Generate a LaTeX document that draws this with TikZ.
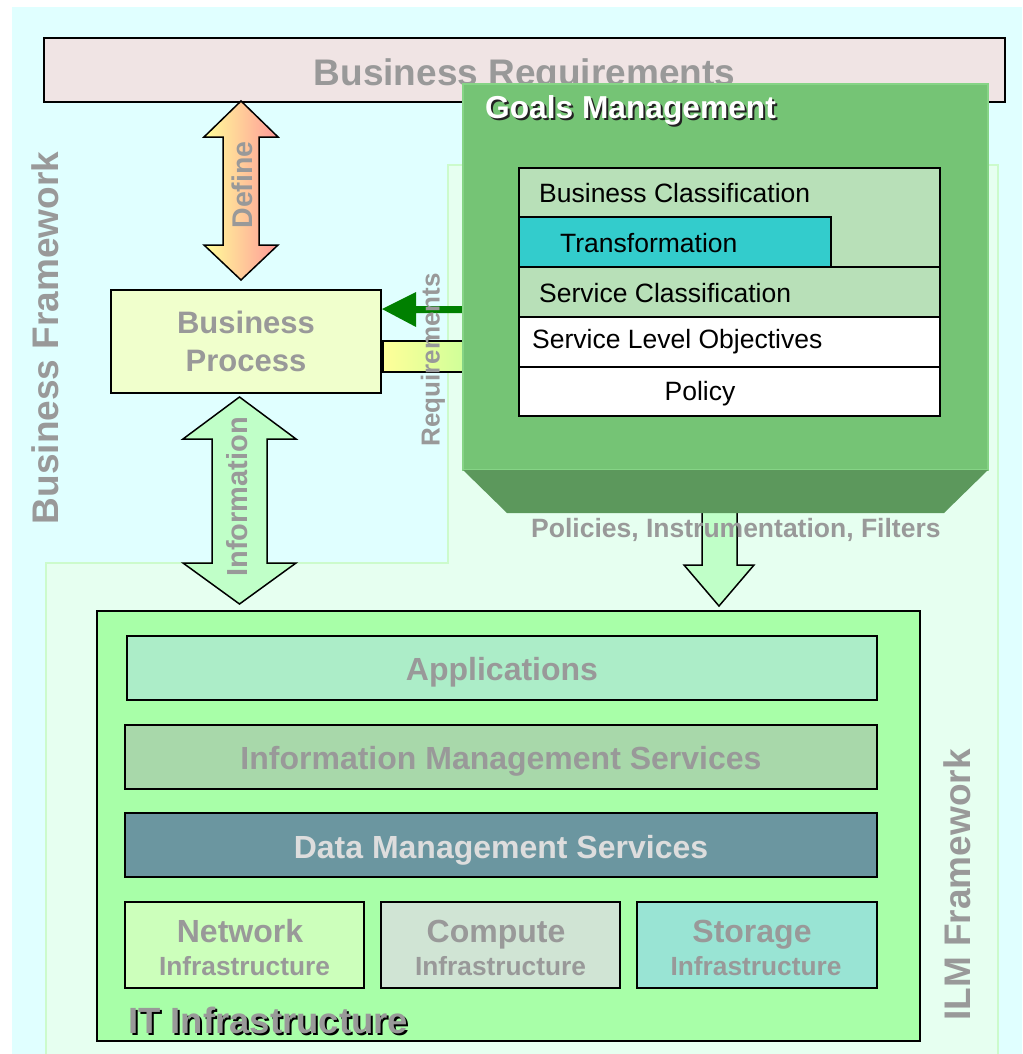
\documentclass[tikz,border=0pt]{standalone}
\usepackage{fontspec}
\setmainfont{Liberation Sans}
\usetikzlibrary{calc}
\definecolor{bgcyan}{HTML}{E0FFFF}
\definecolor{ilmbg}{HTML}{E6FFF0}
\definecolor{ilmedge}{HTML}{CCFBCC}
\definecolor{reqfill}{HTML}{F0E4E4}
\definecolor{labelgray}{HTML}{999999}
\definecolor{goalface}{HTML}{75C475}
\definecolor{goaledge}{HTML}{86D486}
\definecolor{goalbevel}{HTML}{5C985C}
\definecolor{classfill}{HTML}{B8E0B8}
\definecolor{transfill}{HTML}{33CCCC}
\definecolor{bpfill}{HTML}{F0FFCC}
\definecolor{arrowgreen}{HTML}{C0FFC8}
\definecolor{darkgreen}{HTML}{008000}
\definecolor{itfill}{HTML}{A8FFA8}
\definecolor{appfill}{HTML}{ACEDC8}
\definecolor{imsfill}{HTML}{A8D8AA}
\definecolor{dmsfill}{HTML}{6B96A0}
\definecolor{dmstext}{HTML}{DDDDDD}
\definecolor{netfill}{HTML}{CCFFBB}
\definecolor{compfill}{HTML}{D0E4D4}
\definecolor{storfill}{HTML}{99E4D4}
\definecolor{lightyellow}{HTML}{FFFF99}
\definecolor{pinkish}{HTML}{FF9999}
\definecolor{yellowgreen}{HTML}{CCFF99}
\definecolor{shadowdark}{HTML}{222222}
\tikzset{
  blk/.style={draw=black, line width=1.8pt, inner sep=0pt, outer sep=0pt, anchor=north west},
  big/.style={text=labelgray, font=\bfseries\fontsize{37}{44}\selectfont, inner sep=0pt},
  mid/.style={text=labelgray, font=\bfseries\fontsize{32}{38}\selectfont, inner sep=0pt},
  sub/.style={text=labelgray, font=\bfseries\fontsize{26.3}{31}\selectfont, inner sep=0pt},
  rowtxt/.style={text=black, font=\fontsize{26.5}{31}\selectfont, inner sep=0pt},
  blockarrow/.style={draw=black, line width=1.5pt, line join=miter},
}
\begin{document}
\begin{tikzpicture}[x=1pt,y=-1pt]
\useasboundingbox (0,0) rectangle (1022,1054);
% backgrounds
\fill[white] (0,0) rectangle (1022,1054);
\fill[bgcyan] (12,7) rectangle (1022,1054);
\fill[ilmbg] (448,165) -- (998,165) -- (998,1054) -- (46,1054) -- (46,563) -- (448,563) -- cycle;
\draw[ilmedge, line width=1.5pt] (46,1054) -- (46,563) -- (448,563) -- (448,165) -- (998,165) -- (998,1054);

% Business requirements
\node[blk, fill=reqfill, minimum width=961, minimum height=64] (breq) at (44,38) {};
\node[big, anchor=base] (breqtxt) at (524.5,86) {Business Requirements};

% framework labels
\node[big, rotate=90] (bfw) at (45,338) {Business Framework};
\node[big, rotate=90] (ilmfw) at (957,885) {ILM Framework};

% Define arrow
\draw[blockarrow, left color=lightyellow, right color=pinkish]
  (241,101) -- (278,137) -- (259,137) -- (259,245) -- (278,245) -- (241,280)
  -- (204,245) -- (223,245) -- (223,137) -- (204,137) -- cycle;
\node[text=labelgray, font=\bfseries\fontsize{28.5}{33}\selectfont, rotate=90, inner sep=0pt] (deftxt) at (242,185) {Define};

% Business process
\node[blk, fill=bpfill, minimum width=270, minimum height=103, text=labelgray,
      font=\bfseries\fontsize{31}{38}\selectfont, align=center] (bp) at (111,290) {Business\\Process};

% Information arrow
\draw[blockarrow, fill=arrowgreen]
  (239.5,397) -- (296,439) -- (267,439) -- (267,563) -- (296,563) -- (239.5,604)
  -- (183,563) -- (212,563) -- (212,439) -- (183,439) -- cycle;
\node[text=labelgray, font=\bfseries\fontsize{29}{34}\selectfont, rotate=90, inner sep=0pt] (infotxt) at (237,497) {Information};

% requirements arrow and bar
\fill[darkgreen] (382,309) -- (416,292) -- (416,306) -- (470,306) -- (470,313) -- (416,313) -- (416,327) -- cycle;
\draw[line width=1.5pt, left color=lightyellow, right color=yellowgreen] (383,341) rectangle (470,372);

% down arrow
\draw[blockarrow, fill=arrowgreen]
  (702,505) -- (702,565) -- (684,565) -- (719,606) -- (754,565) -- (737,565) -- (737,505);

% Goals management
\node[anchor=north west, fill=goalface, draw=goaledge, line width=2pt, minimum width=525, minimum height=386, inner sep=0pt, outer sep=0pt] (goals) at (463,84) {};
\fill[goalbevel] (463,470) -- (988,470) -- (944,513) -- (507,513) -- cycle;
\node[anchor=base west, text=shadowdark, font=\bfseries\fontsize{31.7}{37}\selectfont, inner sep=0pt] at (487,121) {Goals Management};
\node[anchor=base west, text=white, font=\bfseries\fontsize{31.7}{37}\selectfont, inner sep=0pt] (goalstxt) at (485,119) {Goals Management};

\node[blk, fill=classfill, minimum width=421, minimum height=99] (bc) at (519,168) {};
\node[blk, fill=transfill, minimum width=312, minimum height=50] (tr) at (519,217) {};
\node[blk, fill=classfill, minimum width=421, minimum height=50] (sc) at (519,267) {};
\node[blk, fill=white, minimum width=421, minimum height=50] (slo) at (519,317) {};
\node[blk, fill=white, minimum width=421, minimum height=49] (pol) at (519,367) {};
\node[rowtxt, anchor=base west] at (539,202) {Business Classification};
\node[rowtxt, anchor=base west] at (560,252) {Transformation};
\node[rowtxt, anchor=base west] at (539,302) {Service Classification};
\node[rowtxt, anchor=base west] at (532,348) {Service Level Objectives};
\node[rowtxt, anchor=base] at (700,400) {Policy};

% labels over arrows
\node[text=labelgray, font=\bfseries\fontsize{26}{31}\selectfont, rotate=90, inner sep=0pt] (reqtxt) at (433,360) {Requirements};
\node[text=labelgray, font=\bfseries\fontsize{26.5}{31}\selectfont, anchor=base west, inner sep=0pt] (poltxt) at (531,537) {Policies, Instrumentation, Filters};

% IT infrastructure
\node[blk, fill=itfill, minimum width=823, minimum height=430] (it) at (97,611) {};
\node[blk, fill=appfill, minimum width=750, minimum height=64] (apps) at (127,636) {};
\node[blk, fill=imsfill, minimum width=752, minimum height=64] (ims) at (125,725) {};
\node[blk, fill=dmsfill, minimum width=752, minimum height=64] (dms) at (125,813) {};
\node[blk, fill=netfill, minimum width=239, minimum height=86] (net) at (125,902) {};
\node[blk, fill=compfill, minimum width=239, minimum height=86] (comp) at (381,902) {};
\node[blk, fill=storfill, minimum width=240, minimum height=86] (stor) at (637,902) {};

\node[mid, anchor=base] at (502,680) {Applications};
\node[mid, anchor=base] at (501,769) {Information Management Services};
\node[mid, anchor=base, text=dmstext] at (501,858) {Data Management Services};
\node[mid, anchor=base] at (240,942) {Network};
\node[sub, anchor=base] at (244.5,975) {Infrastructure};
\node[mid, anchor=base] at (496,942) {Compute};
\node[sub, anchor=base] at (500.5,975) {Infrastructure};
\node[mid, anchor=base] at (752,942) {Storage};
\node[sub, anchor=base] at (756,975) {Infrastructure};

\node[anchor=base west, text=black, font=\bfseries\fontsize{36.5}{42}\selectfont, inner sep=0pt] at (130,1035) {IT Infrastructure};
\node[anchor=base west, text=labelgray, font=\bfseries\fontsize{36.5}{42}\selectfont, inner sep=0pt] (ittxt) at (128,1033) {IT Infrastructure};
\end{tikzpicture}
\end{document}
